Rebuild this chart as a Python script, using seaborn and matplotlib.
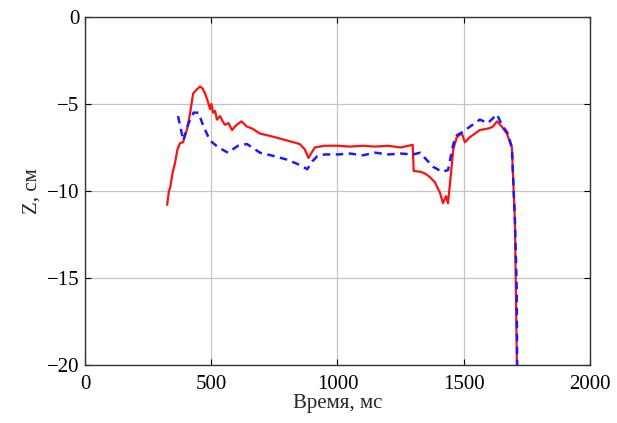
import numpy as np
import pandas as pd
import matplotlib
matplotlib.use("Agg")
import matplotlib.pyplot as plt
import seaborn as sns

# Red (solid) series: time (ms), Z (cm)
red_t = [325, 332, 337, 346, 356, 366, 376, 388, 396, 403, 415, 428, 440, 455, 465, 475, 485,
         495, 500, 507, 515, 522, 535, 545, 554, 568, 582, 600, 620, 641, 660,
         693, 750, 800, 850, 870, 885, 910, 950, 1000, 1050, 1100, 1150, 1200, 1250, 1298,
         1302, 1330, 1347, 1366, 1386, 1406, 1418, 1430, 1438, 1459, 1473, 1493, 1505, 1525,
         1564, 1600, 1616, 1632, 1651, 1671, 1691, 1703, 1711, 1713]
red_z = [-10.8, -10.0, -9.8, -9.0, -8.4, -7.6, -7.25, -7.2, -6.8, -6.5, -5.6, -4.4, -4.2, -4.0,
         -4.1, -4.4, -4.8, -5.3, -5.0, -5.5, -5.4, -5.9, -5.7, -6.0, -6.2, -6.1, -6.5, -6.2,
         -6.0, -6.3, -6.4, -6.7, -6.9, -7.1, -7.3, -7.6, -8.1, -7.5, -7.4, -7.4, -7.45, -7.4,
         -7.45, -7.4, -7.5, -7.35, -8.85, -8.9, -9.0, -9.2, -9.5, -10.1, -10.7, -10.3, -10.7,
         -7.6, -6.9, -6.7, -7.2, -6.9, -6.5, -6.4, -6.3, -6.0, -6.3, -6.7, -7.5, -11.7, -20.0,
         -22.0]

# Blue (dashed) series
blue_t = [368, 389, 410, 430, 449, 469, 495, 528, 566, 606, 641, 693, 750, 800, 850, 880,
          900, 920, 950, 1000, 1050, 1100, 1150, 1200, 1250, 1300, 1327, 1378, 1414, 1438,
          1459, 1473, 1497, 1525, 1564, 1596, 1632, 1651, 1675, 1691, 1703, 1710, 1712, 1713]
blue_z = [-5.7, -7.1, -6.1, -5.5, -5.5, -6.3, -7.1, -7.5, -7.8, -7.4, -7.3, -7.8, -8.0, -8.2,
          -8.5, -8.75, -8.3, -8.0, -7.9, -7.9, -7.85, -7.95, -7.8, -7.9, -7.85, -7.9, -7.8,
          -8.6, -8.9, -8.8, -7.3, -6.8, -6.6, -6.3, -5.9, -6.1, -5.6, -6.2, -6.7, -7.5, -11.7,
          -15.5, -20.0, -22.0]

x_ticks = [0, 500, 1000, 1500, 2000]
y_ticks = [0, -5, -10, -15, -20]

sns.set_style("white")
plt.rcParams['font.family'] = ['Liberation Serif', 'DejaVu Serif']
plt.rcParams['axes.unicode_minus'] = True

fig = plt.figure(figsize=(6.17, 4.23), dpi=100)
ax = fig.add_axes([0.138, 0.137, 0.818, 0.823])

df_red = pd.DataFrame({"t": red_t, "z": red_z})
df_blue = pd.DataFrame({"t": blue_t, "z": blue_z})

ax.grid(True, color="#c4c4c4", linewidth=0.9, zorder=0)
sns.lineplot(data=df_red, x="t", y="z", ax=ax, color="#ff1010", linewidth=1.6,
             sort=False, estimator=None, zorder=3)
sns.lineplot(data=df_blue, x="t", y="z", ax=ax, color="#1a1aff", linewidth=1.8,
             sort=False, estimator=None, linestyle=(0, (3, 2.2)), zorder=4)

ax.set_xlim(0, 2000)
ax.set_ylim(-20, 0)
ax.set_xticks(x_ticks)
ax.set_yticks(y_ticks)
ax.set_xticklabels([str(v) for v in x_ticks])
ax.set_yticklabels(["0" if v == 0 else "\u2212" + str(-v) for v in y_ticks])
ax.tick_params(direction="in", length=4, width=0.8, labelsize=15, top=True, right=True,
               bottom=True, left=True, colors="black")
ax.tick_params(axis="x", pad=7)
ax.tick_params(axis="y", pad=4)
for s in ax.spines.values():
    s.set_color("#333333")
    s.set_linewidth(1.0)
ax.set_axisbelow(True)
ax.set_xlabel("Время, мс", fontsize=15, labelpad=0)
ax.set_ylabel("Z, см", fontsize=15, labelpad=4)

fig.savefig("out.png", dpi=100)
